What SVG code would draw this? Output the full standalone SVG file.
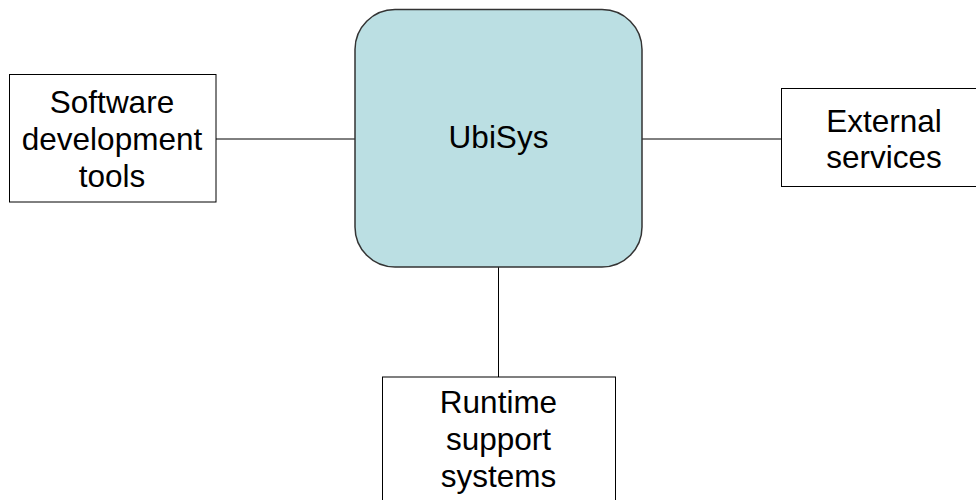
<svg xmlns="http://www.w3.org/2000/svg" width="976" height="500" viewBox="0 0 976 500">
  <style>
    .box { fill: #ffffff; stroke: #000000; stroke-width: 1; }
    .core { fill: #BBDFE3; stroke: #333333; stroke-width: 1.5; }
    .link { stroke: #000000; stroke-width: 1; fill: none; }
    .label { font-family: "Liberation Sans", Arial, sans-serif; font-size: 31.5px; fill: #000000; text-anchor: middle; }
  </style>
  <rect width="976" height="500" fill="#ffffff"/>

  <g id="connectors">
    <line class="link" x1="216" y1="139" x2="355" y2="139"/>
    <line class="link" x1="642" y1="139" x2="781" y2="139"/>
    <line class="link" x1="498.5" y1="267" x2="498.5" y2="377"/>
  </g>

  <g id="ubisys">
    <rect class="core" x="355" y="9.5" width="287" height="257.5" rx="40" ry="40"/>
    <text class="label" x="498.5" y="148">UbiSys</text>
  </g>

  <g id="dev-tools">
    <rect class="box" x="9.5" y="74.5" width="206.5" height="127.5"/>
    <text class="label" x="112" y="113">Software</text>
    <text class="label" x="112" y="150">development</text>
    <text class="label" x="112" y="187">tools</text>
  </g>

  <g id="external-services">
    <rect class="box" x="781.5" y="88.5" width="206" height="98"/>
    <text class="label" x="884" y="132">External</text>
    <text class="label" x="884" y="168">services</text>
  </g>

  <g id="runtime-support">
    <rect class="box" x="382.5" y="377" width="233" height="140"/>
    <text class="label" x="498.5" y="413">Runtime</text>
    <text class="label" x="498.5" y="450">support</text>
    <text class="label" x="498.5" y="487">systems</text>
  </g>
</svg>
